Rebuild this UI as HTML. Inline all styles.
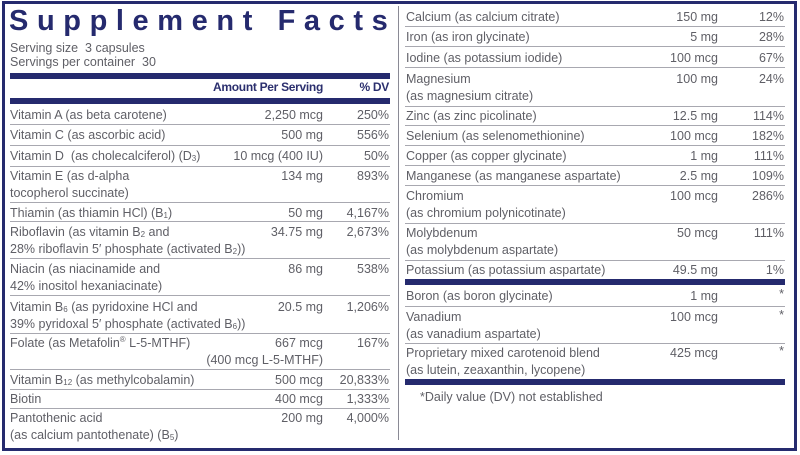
<!DOCTYPE html>
<html><head><meta charset="utf-8">
<style>
*{margin:0;padding:0;box-sizing:border-box}
body{width:800px;height:455px;background:#fff;position:relative;overflow:hidden;font-family:"Liberation Sans",Arial,sans-serif;color:#5f5f66;font-size:12.5px}
.frame{position:absolute;left:2px;top:1px;width:795px;height:450px;border:3px solid #252a6e}
div.t{position:absolute;white-space:nowrap;line-height:17px}
.n{left:10px}.a{right:477px;text-align:right}.d{right:411px;text-align:right}
.n2{left:406px}.a2{right:82px;text-align:right}.d2{right:16px;text-align:right}
.hl{position:absolute;height:1px;background:#a8a8b0}
.L{left:10px;width:380px}.R{left:405px;width:380px}
.tb{position:absolute;height:6px;background:#252a6e}
sub{font-size:8px;vertical-align:-1px;line-height:0}
sup{font-size:8px;line-height:0}
</style></head><body>
<div class="frame"></div>
<div style="position:absolute;left:398px;top:6px;width:1px;height:434px;background:#8a8a95"></div>

<div class="t" style="left:9px;top:2px;font-size:29px;font-weight:bold;color:#252a6e;letter-spacing:8.6px;line-height:38px">Supplement Facts</div>
<div class="t n" style="top:40px">Serving size&nbsp; 3 capsules</div>
<div class="t n" style="top:54px">Servings per container&nbsp; 30</div>
<div class="tb L" style="top:73px"></div>
<div class="t" style="right:477px;top:79px;font-weight:bold;color:#2b2f6e;font-size:12px;letter-spacing:-0.3px">Amount Per Serving</div>
<div class="t" style="right:411px;top:79px;font-weight:bold;color:#2b2f6e;font-size:12px;letter-spacing:-0.3px">% DV</div>
<div class="tb L" style="top:98px"></div>

<div class="t n" style="top:107px">Vitamin A (as beta carotene)</div><div class="t a" style="top:107px">2,250 mcg</div><div class="t d" style="top:107px">250%</div>
<div class="hl L" style="top:124px"></div>
<div class="t n" style="top:127px">Vitamin C (as ascorbic acid)</div><div class="t a" style="top:127px">500 mg</div><div class="t d" style="top:127px">556%</div>
<div class="hl L" style="top:145px"></div>
<div class="t n" style="top:148px">Vitamin D&nbsp; (as cholecalciferol) (D<sub>3</sub>)</div><div class="t a" style="top:148px">10 mcg (400 IU)</div><div class="t d" style="top:148px">50%</div>
<div class="hl L" style="top:166px"></div>
<div class="t n" style="top:168px">Vitamin E (as d-alpha<br>tocopherol succinate)</div><div class="t a" style="top:168px">134 mg</div><div class="t d" style="top:168px">893%</div>
<div class="hl L" style="top:202px"></div>
<div class="t n" style="top:205px">Thiamin (as thiamin HCl) (B<sub>1</sub>)</div><div class="t a" style="top:205px">50 mg</div><div class="t d" style="top:205px">4,167%</div>
<div class="hl L" style="top:221px"></div>
<div class="t n" style="top:224px">Riboflavin (as vitamin B<sub>2</sub> and<br>28% riboflavin 5′ phosphate (activated B<sub>2</sub>))</div><div class="t a" style="top:224px">34.75 mg</div><div class="t d" style="top:224px">2,673%</div>
<div class="hl L" style="top:258px"></div>
<div class="t n" style="top:261px">Niacin (as niacinamide and<br>42% inositol hexaniacinate)</div><div class="t a" style="top:261px">86 mg</div><div class="t d" style="top:261px">538%</div>
<div class="hl L" style="top:295px"></div>
<div class="t n" style="top:299px">Vitamin B<sub>6</sub> (as pyridoxine HCl and<br>39% pyridoxal 5′ phosphate (activated B<sub>6</sub>))</div><div class="t a" style="top:299px">20.5 mg</div><div class="t d" style="top:299px">1,206%</div>
<div class="hl L" style="top:333px"></div>
<div class="t n" style="top:335px">Folate (as Metafolin<sup>®</sup> L-5-MTHF)</div><div class="t a" style="top:335px">667 mcg<br>(400 mcg L-5-MTHF)</div><div class="t d" style="top:335px">167%</div>
<div class="hl L" style="top:369px"></div>
<div class="t n" style="top:372px">Vitamin B<sub>12</sub> (as methylcobalamin)</div><div class="t a" style="top:372px">500 mcg</div><div class="t d" style="top:372px">20,833%</div>
<div class="hl L" style="top:389px"></div>
<div class="t n" style="top:391px">Biotin</div><div class="t a" style="top:391px">400 mcg</div><div class="t d" style="top:391px">1,333%</div>
<div class="hl L" style="top:408px"></div>
<div class="t n" style="top:410px">Pantothenic acid<br>(as calcium pantothenate) (B<sub>5</sub>)</div><div class="t a" style="top:410px">200 mg</div><div class="t d" style="top:410px">4,000%</div>

<div class="t n2" style="top:9px">Calcium (as calcium citrate)</div><div class="t a2" style="top:9px">150 mg</div><div class="t d2" style="top:9px">12%</div>
<div class="hl R" style="top:26px"></div>
<div class="t n2" style="top:29px">Iron (as iron glycinate)</div><div class="t a2" style="top:29px">5 mg</div><div class="t d2" style="top:29px">28%</div>
<div class="hl R" style="top:46px"></div>
<div class="t n2" style="top:50px">Iodine (as potassium iodide)</div><div class="t a2" style="top:50px">100 mcg</div><div class="t d2" style="top:50px">67%</div>
<div class="hl R" style="top:67px"></div>
<div class="t n2" style="top:71px">Magnesium<br>(as magnesium citrate)</div><div class="t a2" style="top:71px">100 mg</div><div class="t d2" style="top:71px">24%</div>
<div class="hl R" style="top:106px"></div>
<div class="t n2" style="top:108px">Zinc (as zinc picolinate)</div><div class="t a2" style="top:108px">12.5 mg</div><div class="t d2" style="top:108px">114%</div>
<div class="hl R" style="top:125px"></div>
<div class="t n2" style="top:128px">Selenium (as selenomethionine)</div><div class="t a2" style="top:128px">100 mcg</div><div class="t d2" style="top:128px">182%</div>
<div class="hl R" style="top:145px"></div>
<div class="t n2" style="top:148px">Copper (as copper glycinate)</div><div class="t a2" style="top:148px">1 mg</div><div class="t d2" style="top:148px">111%</div>
<div class="hl R" style="top:165px"></div>
<div class="t n2" style="top:168px">Manganese (as manganese aspartate)</div><div class="t a2" style="top:168px">2.5 mg</div><div class="t d2" style="top:168px">109%</div>
<div class="hl R" style="top:185px"></div>
<div class="t n2" style="top:188px">Chromium<br>(as chromium polynicotinate)</div><div class="t a2" style="top:188px">100 mcg</div><div class="t d2" style="top:188px">286%</div>
<div class="hl R" style="top:223px"></div>
<div class="t n2" style="top:225px">Molybdenum<br>(as molybdenum aspartate)</div><div class="t a2" style="top:225px">50 mcg</div><div class="t d2" style="top:225px">111%</div>
<div class="hl R" style="top:260px"></div>
<div class="t n2" style="top:262px">Potassium (as potassium aspartate)</div><div class="t a2" style="top:262px">49.5 mg</div><div class="t d2" style="top:262px">1%</div>
<div class="tb R" style="top:279px"></div>
<div class="t n2" style="top:288px">Boron (as boron glycinate)</div><div class="t a2" style="top:288px">1 mg</div><div class="t d2" style="top:286px">*</div>
<div class="hl R" style="top:306px"></div>
<div class="t n2" style="top:309px">Vanadium<br>(as vanadium aspartate)</div><div class="t a2" style="top:309px">100 mcg</div><div class="t d2" style="top:307px">*</div>
<div class="hl R" style="top:343px"></div>
<div class="t n2" style="top:345px">Proprietary mixed carotenoid blend<br>(as lutein, zeaxanthin, lycopene)</div><div class="t a2" style="top:345px">425 mcg</div><div class="t d2" style="top:343px">*</div>
<div class="tb R" style="top:379px"></div>
<div class="t" style="left:420px;top:389px">*Daily value (DV) not established</div>
</body></html>
